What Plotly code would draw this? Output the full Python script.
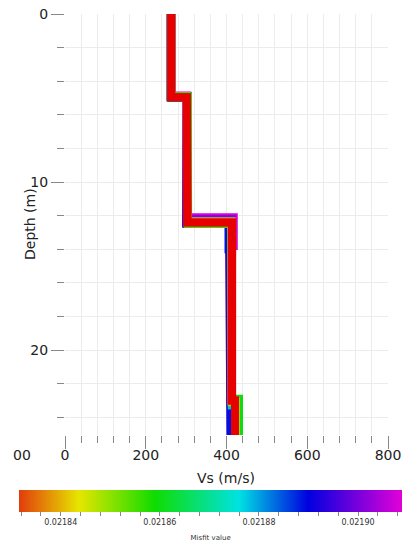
import plotly.graph_objects as go

# ---------------- data ----------------
# Each model: misfit, layer Vs values (m/s), layer bottom depths (m)
misfits = [0.021908, 0.021902, 0.021894, 0.021889, 0.021878, 0.021868, 0.021860,
           0.021850, 0.021842, 0.021830, 0.021828]
vs_layers = [
    [264, 303, 302, 418, 411, 417],
    [262, 304, 303, 414, 410, 420],
    [261, 301, 300, 406, 409, 410],
    [263, 302, 301, 405, 410, 411],
    [263, 303, 304, 411, 413, 424],
    [262, 303, 304, 413, 412, 427],
    [263, 304, 305, 414, 413, 431],
    [262, 303, 303, 412, 413, 423],
    [263, 302, 303, 413, 412, 422],
    [263, 301, 302, 413, 412, 421],
    [263, 302, 304, 414, 414, 421],
]
depth_bottoms = [
    [4.85, 7.9, 12.1, 13.8, 23.0],
    [4.9, 8.0, 12.2, 13.7, 23.1],
    [4.95, 8.1, 12.45, 14.2, 23.7],
    [5.0, 7.9, 12.5, 14.0, 23.9],
    [4.9, 8.0, 12.35, 13.9, 23.3],
    [4.95, 8.0, 12.4, 13.7, 23.0],
    [4.9, 7.9, 12.5, 13.8, 22.9],
    [4.95, 8.0, 12.45, 13.9, 23.1],
    [4.92, 8.0, 12.35, 13.9, 23.0],
    [4.95, 8.1, 12.4, 13.8, 23.0],
    [4.95, 8.0, 12.4, 13.9, 23.0],
]
max_depth = 26

x_tickvals = [0, 200, 400, 600, 800]
y_tickvals = [0, 10, 20]
cb_major_labels = ["0.02184", "0.02186", "0.02188", "0.02190"]
cb_min, cb_max = 0.0218316, 0.0219089
cb_tick_start, cb_tick_step, cb_tick_count = 0.021832, 0.000004, 20

colorscale = [
    [0.0, "#e23c0c"],
    [0.157, "#e6e600"],
    [0.354, "#10dc00"],
    [0.574, "#00e2e2"],
    [0.755, "#0000e0"],
    [1.0, "#e200d8"],
]
# models better than the colour-bar minimum are drawn pure red
best_color = "#e60000"

W, H = 405, 542
L, R, T, B = 65, 17, 14, 107


def hex2rgb(h):
    h = h.lstrip("#")
    return [int(h[i:i + 2], 16) for i in (0, 2, 4)]


def color_at(v):
    if v < cb_min:
        return best_color
    t = (v - cb_min) / (cb_max - cb_min)
    t = max(0.0, min(1.0, t))
    for (t0, c0), (t1, c1) in zip(colorscale[:-1], colorscale[1:]):
        if t0 <= t <= t1:
            f = (t - t0) / (t1 - t0) if t1 > t0 else 0
            a, b = hex2rgb(c0), hex2rgb(c1)
            r = [round(a[i] + (b[i] - a[i]) * f) for i in range(3)]
            return "rgb(%d,%d,%d)" % tuple(r)
    return colorscale[-1][1]


fig = go.Figure()

# draw worst misfit first, best last (on top)
order = sorted(range(len(misfits)), key=lambda i: -misfits[i])
for i in order:
    vs = vs_layers[i]
    bots = depth_bottoms[i] + [max_depth]
    xs, ys = [], []
    top = 0
    for v, b in zip(vs, bots):
        xs += [v, v]
        ys += [top, b]
        top = b
    fig.add_trace(go.Scatter(
        x=xs, y=ys, mode="lines",
        line=dict(color=color_at(misfits[i]), width=8),
        hoverinfo="skip", showlegend=False,
    ))

# colorbar carrier
cb_ticks = [round(cb_tick_start + k * cb_tick_step, 7) for k in range(cb_tick_count)]
cb_text = ["" for _ in cb_ticks]
for j, lab in enumerate(cb_major_labels):
    cb_text[2 + 5 * j] = lab

fig.add_trace(go.Scatter(
    x=[None, None], y=[None, None], mode="markers",
    marker=dict(
        color=[cb_min, cb_max], cmin=cb_min, cmax=cb_max,
        colorscale=colorscale, showscale=True,
        colorbar=dict(
            orientation="h",
            xref="container", yref="container",
            x=24 / W, xanchor="left",
            y=1 - 490 / H, yanchor="top",
            len=383, lenmode="pixels",
            thickness=22, thicknessmode="pixels",
            xpad=0, ypad=0,
            outlinewidth=0,
            ticks="outside", ticklen=4, tickcolor="#888", tickwidth=1,
            tickvals=cb_ticks, ticktext=cb_text,
            ticklabeloverflow="allow",
            tickfont=dict(family="DejaVu Sans", size=8, color="#333"),
            title=dict(text="Misfit value", side="bottom",
                       font=dict(family="DejaVu Sans", size=7, color="#333")),
        ),
    ),
    hoverinfo="skip", showlegend=False,
))

grid_c = "#ececec"
fig.update_xaxes(
    range=[0, 800], tickvals=x_tickvals, ticks="outside", ticklen=13,
    tickcolor="#888", tickwidth=1, ticklabelstandoff=-6,
    showgrid=True, gridcolor=grid_c, gridwidth=1,
    minor=dict(dtick=40, ticks="outside", ticklen=7, tickcolor="#888",
               showgrid=True, gridcolor=grid_c),
    zeroline=False, showline=False,
    tickfont=dict(family="DejaVu Sans", size=14, color="#222"),
)
fig.update_yaxes(
    range=[25.05, 0], tickvals=y_tickvals, ticks="outside", ticklen=13,
    tickcolor="#888", tickwidth=1,
    showgrid=True, gridcolor=grid_c,
    minor=dict(dtick=2, ticks="outside", ticklen=7, tickcolor="#888",
               showgrid=True, gridcolor=grid_c),
    zeroline=False, showline=False,
    tickfont=dict(family="DejaVu Sans", size=14, color="#222"),
)

pw, ph = W - L - R, H - T - B


def px_to_paper(px, py):
    return (px - L) / pw, (H - B - py) / ph


ax_title_font = dict(family="DejaVu Sans", size=14, color="#222")
tx, ty = px_to_paper(226, 478)
fig.add_annotation(text="Vs (m/s)", xref="paper", yref="paper", x=tx, y=ty,
                   xanchor="center", yanchor="middle", showarrow=False,
                   font=ax_title_font)
tx, ty = px_to_paper(30, 224)
fig.add_annotation(text="Depth (m)", xref="paper", yref="paper", x=tx, y=ty,
                   xanchor="center", yanchor="middle", showarrow=False,
                   textangle=-90, font=ax_title_font)
tx, ty = px_to_paper(22, 455)
fig.add_annotation(text="00", xref="paper", yref="paper", x=tx, y=ty,
                   xanchor="center", yanchor="middle", showarrow=False,
                   font=ax_title_font)

fig.update_layout(
    width=W, height=H,
    margin=dict(l=L, r=R, t=T, b=B, autoexpand=False),
    paper_bgcolor="white", plot_bgcolor="white",
)

fig.write_html("out.html", config={"displayModeBar": False},
               post_script="document.body.style.margin='0px';")
